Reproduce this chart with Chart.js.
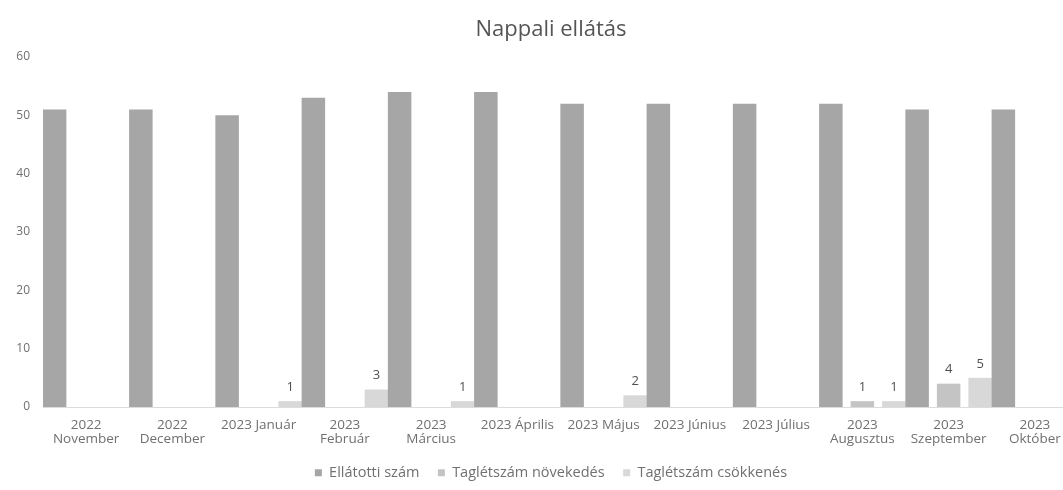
<!DOCTYPE html>
<html><head><meta charset="utf-8">
<script src="https://cdn.jsdelivr.net/npm/chart.js@4.4.0/dist/chart.umd.min.js"></script>
<style>
html,body{margin:0;padding:0;overflow:hidden;background:#fff;width:1063px;height:490px}
#wrap{position:relative;width:1102px;height:490px}
</style></head>
<body><div id="wrap"><canvas id="c" width="1102" height="490"></canvas></div>
<script>
const categories = [["2022","November"],["2022","December"],"2023 Január",["2023","Február"],["2023","Március"],"2023 Április","2023 Május","2023 Június","2023 Július",["2023","Augusztus"],["2023","Szeptember"],["2023","Október"]];
const ellatotti = [51,51,50,53,54,54,52,52,52,52,51,51];
const novekedes = [0,0,0,0,0,0,0,0,0,1,4,0];
const csokkenes = [0,0,1,3,1,0,2,0,0,1,5,0];
const seriesNames = ["Ellátotti szám","Taglétszám növekedés","Taglétszám csökkenés"];
const yMin = 0, yMax = 60, yStep = 10;

const FONT = "'Open Sans', Lato, sans-serif";
const TXT = "#707070";

const valueLabels = {
  id: 'valueLabels',
  afterDatasetsDraw(chart) {
    const ctx = chart.ctx;
    ctx.save();
    ctx.font = "13px " + FONT;
    ctx.fillStyle = "#505050";
    ctx.textAlign = "center";
    ctx.textBaseline = "middle";
    [1,2].forEach(di => {
      const meta = chart.getDatasetMeta(di);
      const data = chart.data.datasets[di].data;
      meta.data.forEach((bar, i) => {
        if (data[i] > 0) ctx.fillText(String(data[i]), bar.x, bar.y - 14);
      });
    });
    ctx.restore();
  }
};

new Chart(document.getElementById('c'), {
  type: 'bar',
  data: {
    labels: categories,
    datasets: [
      {label: seriesNames[0], data: ellatotti, backgroundColor: '#a6a6a6', yAxisID: 'y'},
      {label: seriesNames[1], data: novekedes, backgroundColor: '#c4c4c4', yAxisID: 'y'},
      {label: seriesNames[2], data: csokkenes, backgroundColor: '#d8d8d8', yAxisID: 'y'}
    ]
  },
  options: {
    responsive: false,
    animation: false,
    devicePixelRatio: 1,
    categoryPercentage: 1.096,
    barPercentage: 0.746,
    layout: {padding: {left: 5, right: 5, top: 0, bottom: 0}},
    plugins: {
      title: {display: true, text: 'Nappali ellátás', color: '#555', font: {family: FONT, size: 22, weight: 'normal', lineHeight: 1.2}, padding: {top: 17, bottom: 13.6}},
      legend: {position: 'bottom', labels: {boxWidth: 7, boxHeight: 7, padding: 18.5, color: TXT, font: {family: FONT, size: 14.5}}},
      tooltip: {enabled: false}
    },
    scales: {
      x: {
        afterFit(s) { s.height = 40; },
        grid: {display: false, drawTicks: false},
        border: {display: true, color: '#dcdcdc'},
        ticks: {color: TXT, font: {family: FONT, size: 13.5, lineHeight: 1.04}, maxRotation: 0, autoSkip: false, padding: 11}
      },
      y: {
        min: yMin, max: yMax,
        afterFit(s) { s.width = 38; },
        grid: {display: false, drawTicks: false},
        border: {display: false},
        ticks: {stepSize: yStep, color: TXT, font: {family: FONT, size: 12}, padding: 13}
      },
      y2: {
        position: 'right',
        afterFit(s) { s.width = 19; },
        grid: {display: false, drawTicks: false},
        border: {display: false},
        ticks: {display: false}
      }
    }
  },
  plugins: [valueLabels]
});
</script>
</body></html>
